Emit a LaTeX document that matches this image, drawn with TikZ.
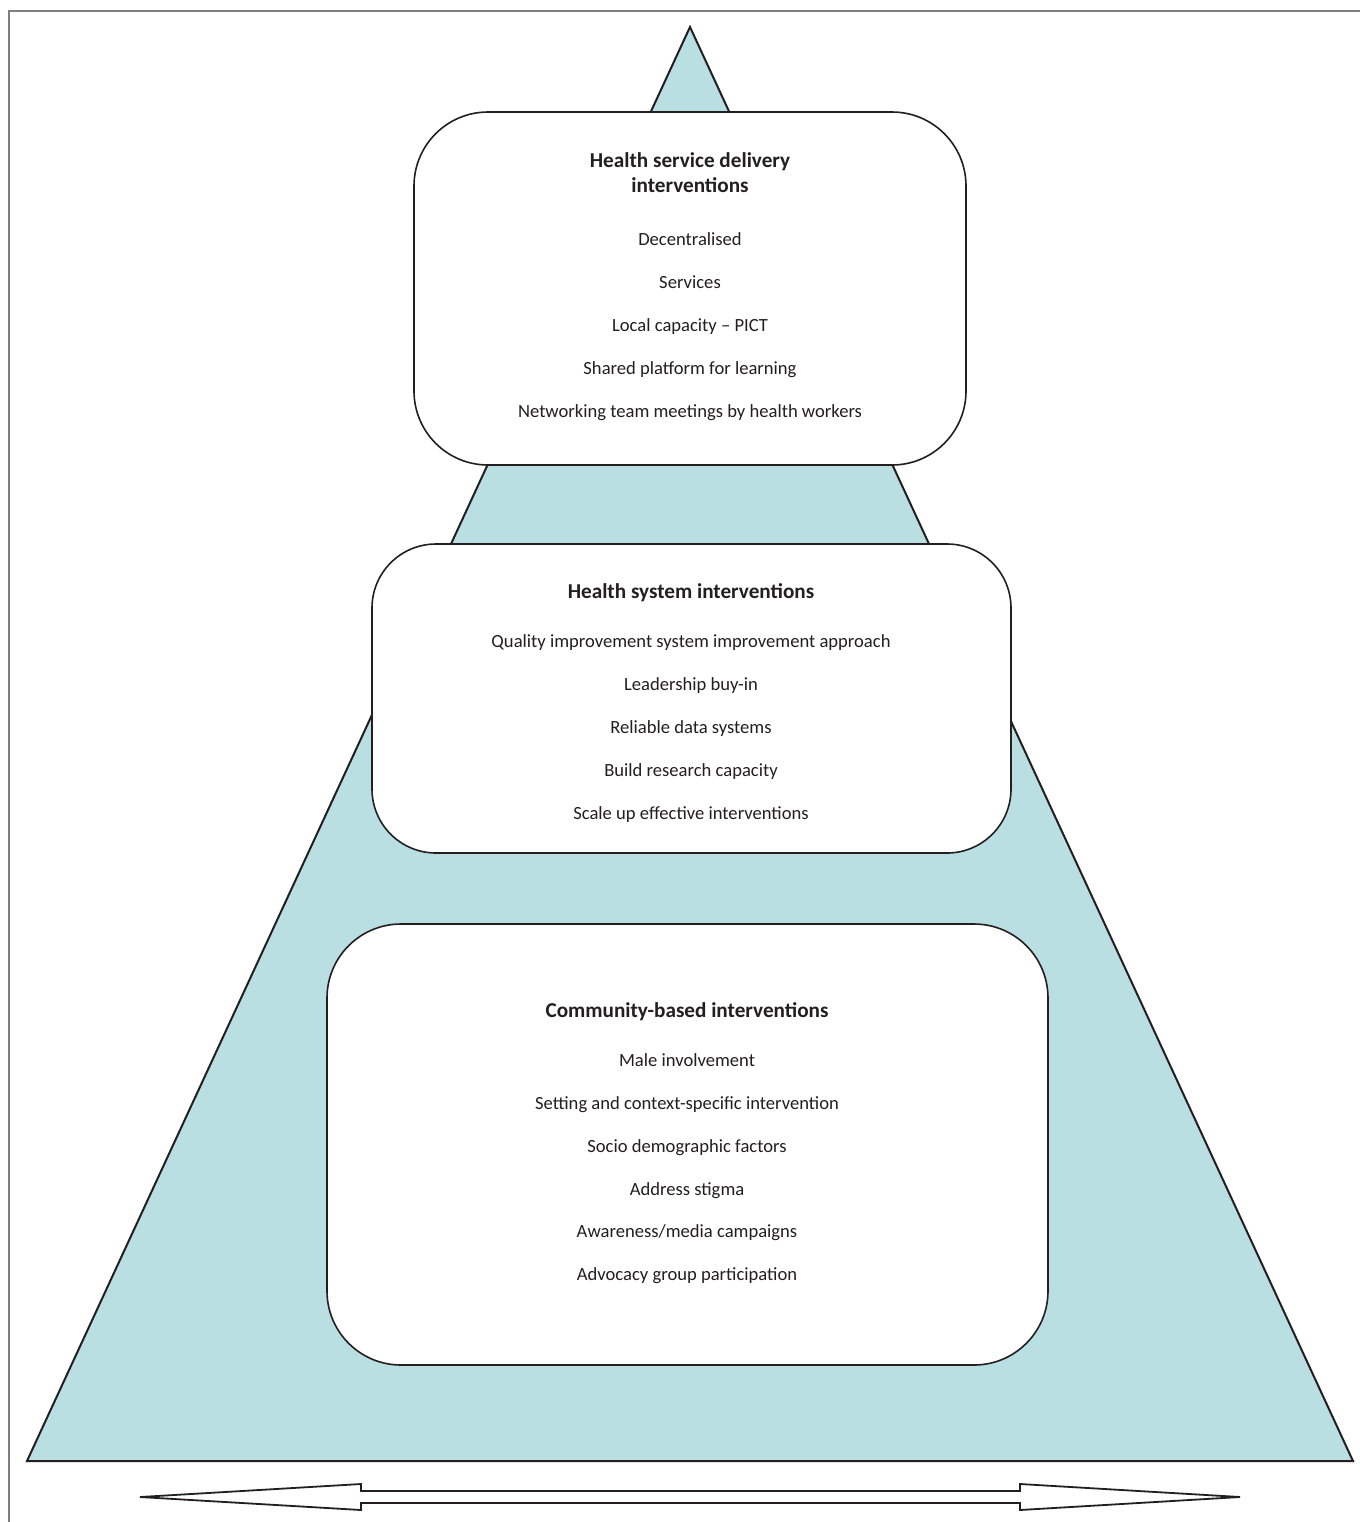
\documentclass[tikz,border=0pt]{standalone}
\usepackage{fontspec}
\setmainfont{Carlito}
\definecolor{teal}{HTML}{BADFE2}
\definecolor{ink}{HTML}{231F20}
\definecolor{framegray}{HTML}{7F7F7F}
\tikzset{
  boxstyle/.style={draw=ink, line width=0.8pt, fill=white, rounded corners=#1, inner sep=0pt},
  title/.style={font=\fontsize{10.6}{12.5}\selectfont\bfseries, text=ink, align=center, anchor=base, inner sep=0pt},
  item/.style={font=\fontsize{9.3}{11}\selectfont, text=ink, anchor=base, inner sep=0pt},
}
\begin{document}
\begin{tikzpicture}[x=0.5pt,y=-0.5pt]
\useasboundingbox (0,0) rectangle (1360,1522);
% frame
\draw[framegray, line width=0.8pt] (9,1522) -- (9,11) -- (1360,11);
% pyramid
\draw[ink, fill=teal, line width=1pt, line join=miter] (690,27) -- (1353,1461) -- (27,1461) -- cycle;
% boxes
\node[boxstyle=37pt, minimum width=276pt, minimum height=176.5pt] (b1) at (690,288.5) {};
\node[boxstyle=32pt, minimum width=319.5pt, minimum height=154.5pt] (b2) at (691.5,698.5) {};
\node[boxstyle=37pt, minimum width=360.5pt, minimum height=220.5pt] (b3) at (687.5,1144.5) {};
% box 1 text
\node[title] (t1) at (690,192) {Health service delivery\\interventions};
\node[item] (a1) at (690,245) {Decentralised};
\node[item] (a2) at (690,288) {Services};
\node[item] (a3) at (690,331) {Local capacity – PICT};
\node[item] (a4) at (690,374) {Shared platform for learning};
\node[item] (a5) at (690,417) {Networking team meetings by health workers};
% box 2 text
\node[title] (t2) at (691,598) {Health system interventions};
\node[item] (c1) at (691,647) {Quality improvement system improvement approach};
\node[item] (c2) at (691,690) {Leadership buy-in};
\node[item] (c3) at (691,733) {Reliable data systems};
\node[item] (c4) at (691,776) {Build research capacity};
\node[item] (c5) at (691,819) {Scale up effective interventions};
% box 3 text
\node[title] (t3) at (687,1017) {Community-based interventions};
\node[item] (d1) at (687,1066) {Male involvement};
\node[item] (d2) at (687,1109) {Setting and context-specific intervention};
\node[item] (d3) at (687,1152) {Socio demographic factors};
\node[item] (d4) at (687,1195) {Address stigma};
\node[item] (d5) at (687,1237) {Awareness/media campaigns};
\node[item] (d6) at (687,1280) {Advocacy group participation};
% double arrow
\draw[ink, fill=white, line width=0.9pt, line join=miter]
  (140,1497) -- (361,1484) -- (361,1491) -- (1020,1491) -- (1020,1484) -- (1240,1497)
  -- (1020,1510) -- (1020,1503) -- (361,1503) -- (361,1510) -- cycle;
\end{tikzpicture}
\end{document}
